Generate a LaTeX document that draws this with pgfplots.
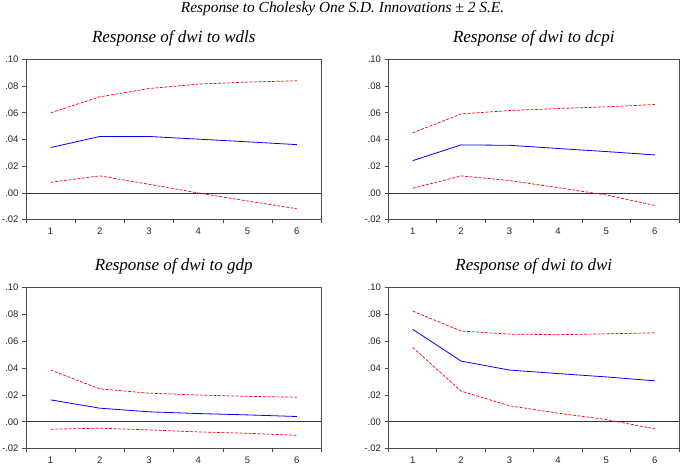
\documentclass[border=0pt]{standalone}
\usepackage{pgfplots}
\pgfplotsset{compat=1.18}
\usepackage{fontspec}
\setmainfont{Liberation Serif}
\newfontfamily\sansf{Liberation Sans}
\newfontfamily\seriff{Liberation Serif}

\pgfplotsset{
  irf/.style={
    scale only axis,
    xmin=0.5, xmax=6.5,
    ymin=-0.02, ymax=0.10,
    xtick={1,2,3,4,5,6},
    xticklabels={1,2,3,4,5,6},
    major x tick style={draw=none},
    minor xtick={0.5,1.5,2.5,3.5,4.5,5.5,6.5},
    ytick={-0.02,0,0.02,0.04,0.06,0.08,0.10},
    yticklabels={-.02,.00,.02,.04,.06,.08,.10},
    tick pos=left,
    tick align=outside,
    major tick length=4pt,
    minor tick length=3.5pt,
    tick style={black!70, line width=0.9pt},
    axis line style={black!70, line width=1pt},
    tick label style={font=\sansf\fontsize{9.5}{10}\selectfont, text=black!85},
    yticklabel style={xshift=0pt},
    xticklabel style={yshift=-0.5pt},
    title style={font=\seriff\itshape\fontsize{17}{19}\selectfont, at={(0.5,1)}, anchor=base, yshift=11pt},
    clip=true,
  },
  up/.style={red, line width=0.7pt, dash pattern=on 3pt off 1.5pt},
  mid/.style={blue, solid, line width=0.8pt},
  zero/.style={black!80, line width=0.8pt},
}

\begin{document}
\begin{tikzpicture}
\useasboundingbox (0pt,0pt) rectangle (685pt,464pt);
\node[font=\seriff\itshape\fontsize{15.4}{17}\selectfont, anchor=base] at (342.5pt,451pt) {Response to Cholesky One S.D. Innovations ± 2 S.E.};

% Panel 1
\begin{axis}[irf, at={(26pt,244.3pt)}, anchor=south west, width=295.5pt, height=160.3pt,
  title={Response of dwi to wdls}]
\addplot[zero] coordinates {(0.5,0) (6.5,0)};
\addplot[up] coordinates {(1,0.0600) (2,0.0720) (3,0.0782) (4,0.0815) (5,0.0830) (6,0.0840)};
\addplot[mid] coordinates {(1,0.0340) (2,0.0423) (3,0.0423) (4,0.0403) (5,0.0383) (6,0.0362)};
\addplot[up] coordinates {(1,0.0080) (2,0.0128) (3,0.0065) (4,0.0000) (5,-0.0060) (6,-0.0118)};
\end{axis}

% Panel 2
\begin{axis}[irf, at={(388.5pt,244.3pt)}, anchor=south west, width=290.5pt, height=160.3pt,
  title={Response of dwi to dcpi}]
\addplot[zero] coordinates {(0.5,0) (6.5,0)};
\addplot[up] coordinates {(1,0.0450) (2,0.0592) (3,0.0617) (4,0.0632) (5,0.0645) (6,0.0662)};
\addplot[mid] coordinates {(1,0.0242) (2,0.0360) (3,0.0357) (4,0.0333) (5,0.0310) (6,0.0285)};
\addplot[up] coordinates {(1,0.0035) (2,0.0128) (3,0.0093) (4,0.0040) (5,-0.0015) (6,-0.0093)};
\end{axis}

% Panel 3
\begin{axis}[irf, at={(26pt,15.3pt)}, anchor=south west, width=295.5pt, height=161pt,
  title={Response of dwi to gdp}]
\addplot[zero] coordinates {(0.5,0) (6.5,0)};
\addplot[up] coordinates {(1,0.0386) (2,0.0246) (3,0.0214) (4,0.0200) (5,0.0190) (6,0.0184)};
\addplot[mid] coordinates {(1,0.0164) (2,0.0102) (3,0.0075) (4,0.0062) (5,0.0052) (6,0.0040)};
\addplot[up] coordinates {(1,-0.0055) (2,-0.0047) (3,-0.0060) (4,-0.0075) (5,-0.0085) (6,-0.0100)};
\end{axis}

% Panel 4
\begin{axis}[irf, at={(388.5pt,15.3pt)}, anchor=south west, width=290.5pt, height=161pt,
  title={Response of dwi to dwi}]
\addplot[zero] coordinates {(0.5,0) (6.5,0)};
\addplot[up] coordinates {(1,0.0826) (2,0.0677) (3,0.0654) (4,0.0650) (5,0.0656) (6,0.0664)};
\addplot[mid] coordinates {(1,0.0690) (2,0.0453) (3,0.0386) (4,0.0360) (5,0.0335) (6,0.0306)};
\addplot[up] coordinates {(1,0.0555) (2,0.0229) (3,0.0120) (4,0.0065) (5,0.0017) (6,-0.0052)};
\end{axis}
\end{tikzpicture}
\end{document}
